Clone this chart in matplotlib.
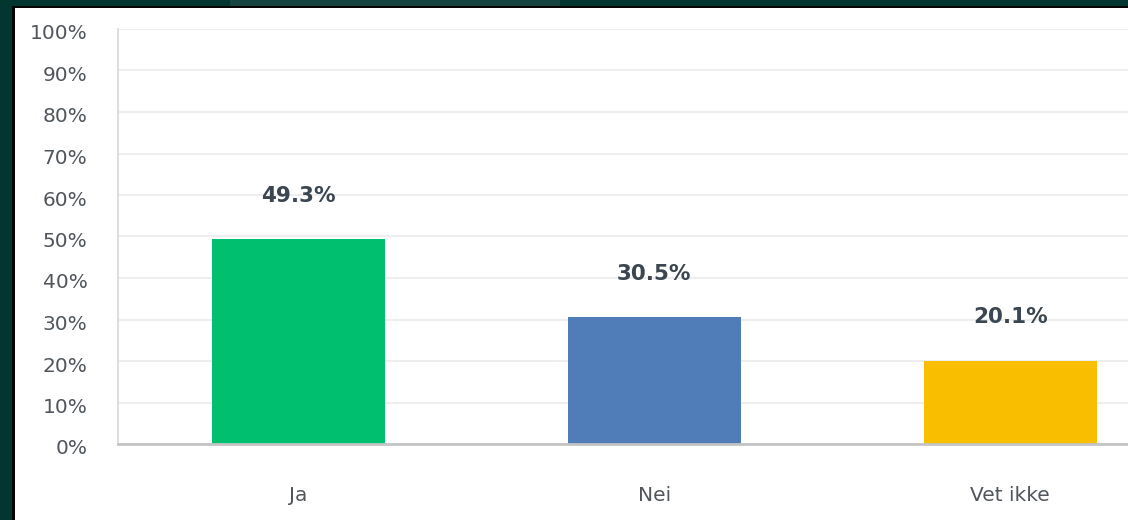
import matplotlib.pyplot as plt
from matplotlib.patches import Rectangle
from matplotlib.transforms import ScaledTranslation

# survey answers and shares (%)
categories = ['Ja', 'Nei', 'Vet ikke']
shares = [49.3, 30.5, 20.1]
bar_colors = ['#00bf6f', '#507cb7', '#f9be00']
yticks = [0, 10, 20, 30, 40, 50, 60, 70, 80, 90, 100]

W, H = 1128, 520
fig = plt.figure(figsize=(W / 100, H / 100), dpi=100)
fig.patch.set_facecolor('white')

# dark page frame around the white panel
frame = [
    (0, H - 6, W, 6, '#033531'),
    (230, H - 6, 330, 6, '#164541'),
    (0, H - 8, W, 2, '#050505'),
    (0, 0, 12, H, '#033531'),
    (12, 0, 3, H - 6, '#050505'),
]
for x, y, w, h, c in frame:
    fig.add_artist(Rectangle((x / W, y / H), w / W, h / H, transform=fig.transFigure,
                             facecolor=c, edgecolor='none', zorder=0))

# axes run past the right edge of the figure
ax_left, ax_bottom, ax_top = 118, 76, 491
step = 356
ax = fig.add_axes([ax_left / W, ax_bottom / H, 3 * step / W, (ax_top - ax_bottom) / H])
ax.set_facecolor('none')

x = range(len(categories))
bars = ax.bar(x, shares, width=173 / step, color=bar_colors, zorder=2)
ax.set_xlim(-0.506, 2.494)
ax.set_ylim(0, 100)

for b, v in zip(bars, shares):
    ax.annotate(f'{v}%', (b.get_x() + b.get_width() / 2, v), xytext=(0, 24),
                textcoords='offset points', ha='center', va='bottom',
                fontsize=15.5, fontweight='bold', color='#3b4650')

ax.set_yticks(yticks)
ax.set_yticklabels([f'{t}%' for t in yticks])
ax.set_xticks(list(x))
ax.set_xticklabels(categories)
ax.tick_params(axis='y', length=0, pad=22, labelsize=14.5, labelcolor='#50565c')
ax.tick_params(axis='x', length=0, pad=30, labelsize=14.5, labelcolor='#50565c')

# nudge the percent labels a little below their grid lines
shift = ScaledTranslation(0, -3 / 100, fig.dpi_scale_trans)
for lbl in ax.get_yticklabels():
    lbl.set_transform(lbl.get_transform() + shift)

ax.grid(axis='y', color='#eeeeee', linewidth=1.5, zorder=0)
for s in ['top', 'right']:
    ax.spines[s].set_visible(False)
ax.spines['left'].set_color('#d8d8d8')
ax.spines['left'].set_linewidth(1.2)
ax.spines['bottom'].set_color('#c4c4c4')
ax.spines['bottom'].set_linewidth(2)

fig.savefig('out.png', dpi=100)
